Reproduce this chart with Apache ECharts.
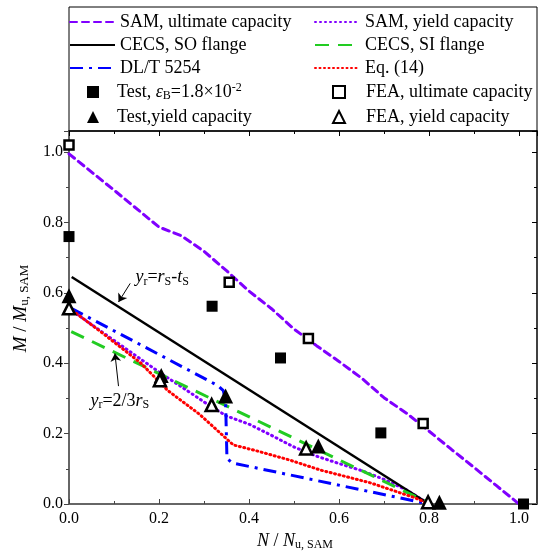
<!DOCTYPE html>
<html>
<head>
<meta charset="utf-8">
<script src="https://cdn.jsdelivr.net/npm/echarts@6/dist/echarts.min.js"></script>
<style>
  html, body { margin: 0; padding: 0; background: #fff; }
  #chart { width: 539px; height: 555px; }
</style>
</head>
<body>
<div id="chart"></div>
<script>
// curves, [N/Nu, M/Mu]
const samUltimate = [[0, 0.995], [0.1, 0.892], [0.2, 0.787], [0.25, 0.762], [0.3, 0.718], [0.35, 0.663], [0.4, 0.605], [0.45, 0.555], [0.5, 0.497], [0.55, 0.45], [0.6, 0.405], [0.65, 0.358], [0.7, 0.302], [0.75, 0.258], [0.8, 0.207], [0.85, 0.155], [0.9, 0.104], [0.95, 0.052], [1.0, 0]]
const samYield = [[0, 0.556], [0.05, 0.51], [0.1, 0.465], [0.15, 0.42], [0.2, 0.375], [0.25, 0.333], [0.3, 0.29], [0.35, 0.25], [0.4, 0.227], [0.45, 0.195], [0.5, 0.162], [0.55, 0.136], [0.6, 0.115], [0.65, 0.095], [0.7, 0.07], [0.75, 0.04], [0.8, 0]]
const cecsSO = [[0.006, 0.645], [0.8, 0]]
const cecsSI = [[0.005, 0.49], [0.805, 0]]
const dlt5254 = [[0.005, 0.556], [0.2, 0.425], [0.33, 0.337], [0.343, 0.322], [0.348, 0.29], [0.351, 0.13], [0.362, 0.117], [0.8, 0]]
const eq14 = [[0, 0.557], [0.07, 0.49], [0.16, 0.4], [0.22, 0.322], [0.29, 0.255], [0.34, 0.197], [0.365, 0.168], [0.42, 0.15], [0.49, 0.125], [0.56, 0.096], [0.67, 0.06], [0.77, 0.017], [0.8, 0]]

// test / FE points
const testUltimate = [[0, 0.76], [0.318, 0.562], [0.47, 0.415], [0.693, 0.202], [1.01, 0]]
const feaUltimate = [[0, 1.02], [0.356, 0.63], [0.532, 0.47], [0.787, 0.229]]
const testYield = [[0, 0.592], [0.205, 0.365], [0.348, 0.307], [0.554, 0.165], [0.823, 0.005]]
const feaYield = [[0, 0.556], [0.202, 0.352], [0.317, 0.281], [0.527, 0.158], [0.798, 0.005]]

// annotations
const noteLabels = [
  [0.207, 0.644, '{i|y}{sub|r}{n|=}{i|r}{sub|S}{n|-}{i|t}{sub|S}'],
  [0.113, 0.292, '{i|y}{sub|r}{n|=2/3}{i|r}{sub|S}']
]
const noteArrows = [
  [[0.136, 0.627], [0.11, 0.574]],
  [[0.11, 0.335], [0.102, 0.428]]
]

const xTicks = { min: 0, max: 1.04, interval: 0.2 }
const yTicks = { min: 0, max: 1.06, interval: 0.2 }

const FONT = 'Liberation Serif'
const PURPLE = '#8000ff'

function makeRich(size, subSize) {
  return {
    n: { fontFamily: FONT, fontSize: size, color: '#000', lineHeight: 20 },
    i: { fontFamily: FONT, fontSize: size, color: '#000', fontStyle: 'italic', lineHeight: 20 },
    sub: { fontFamily: FONT, fontSize: subSize, color: '#000', verticalAlign: 'bottom' },
    sup: { fontFamily: FONT, fontSize: subSize, color: '#000', verticalAlign: 'top' }
  }
}

const legendNames = {
  'Test, eps': '{n|Test, }{i|ε}{sub|B}{n|=1.8×10}{sup|-2}'
}

const chart = echarts.init(document.getElementById('chart'), null, { renderer: 'canvas' })

function lineSeries(name, data, color, width, type, cap) {
  return {
    name,
    type: 'line',
    data,
    symbol: 'none',
    smooth: false,
    lineStyle: { color, width, type, cap: cap || 'butt' },
    itemStyle: { color },
    z: 2
  }
}

function pointSeries(name, data, symbol, size, open) {
  return {
    name,
    type: 'scatter',
    data,
    symbol,
    symbolSize: size,
    itemStyle: open
      ? { color: '#fff', borderColor: '#000', borderWidth: 2.5, opacity: 1 }
      : { color: '#000', opacity: 1 },
    z: 5
  }
}

function lineLegend(left, names) {
  return {
    orient: 'vertical',
    left,
    top: 12,
    itemWidth: 45,
    itemHeight: 12,
    itemGap: 3,
    padding: 0,
    selectedMode: false,
    textStyle: { fontFamily: FONT, fontSize: 18, color: '#000', lineHeight: 20 },
    // line legend icons carry a marker, hide it
    data: names.map(name => ({ name, itemStyle: { opacity: 0, color: 'rgba(0,0,0,0)', borderWidth: 0 } }))
  }
}

function pointLegend(left, textPad, names) {
  return {
    orient: 'vertical',
    left,
    top: 82,
    itemWidth: 12,
    itemHeight: 12,
    itemGap: 5,
    padding: 0,
    symbolKeepAspect: true,
    selectedMode: false,
    formatter: name => legendNames[name] || name,
    textStyle: { fontFamily: FONT, fontSize: 18, color: '#000', lineHeight: 20, padding: [0, 0, 0, textPad], rich: makeRich(18, 12) },
    data: names
  }
}

const nameRich = makeRich(18, 12)
const noteRich = makeRich(18, 12)

chart.setOption({
  animation: false,
  textStyle: { fontFamily: FONT },
  grid: { left: 69, right: 2, top: 131, bottom: 51, outerBoundsMode: 'none' },
  graphic: [{
    type: 'rect',
    shape: { x: 69, y: 7, width: 468, height: 124 },
    style: { fill: 'none', stroke: '#000', lineWidth: 1 },
    silent: true
  }],
  legend: [
    lineLegend(69, ['SAM, ultimate capacity', 'CECS, SO flange', 'DL/T 5254']),
    lineLegend(314, ['SAM, yield capacity', 'CECS, SI flange', 'Eq. (14)']),
    pointLegend(87, 13, ['Test, eps', 'Test,yield capacity']),
    pointLegend(332, 16, ['FEA, ultimate capacity', 'FEA, yield capacity'])
  ],
  xAxis: [{
    type: 'value',
    min: xTicks.min,
    max: xTicks.max,
    interval: xTicks.interval,
    position: 'bottom',
    name: '{i|N}{n| / }{i|N}{sub|u, SAM}',
    nameLocation: 'middle',
    nameGap: 26,
    nameTextStyle: { rich: nameRich, padding: [0, 16, 0, 0] },
    axisLine: { onZero: false, lineStyle: { color: '#666', width: 2 } },
    axisTick: { inside: true, length: 5, lineStyle: { color: '#444', width: 1 } },
    minorTick: { show: true, splitNumber: 2, length: 3, lineStyle: { color: '#444', width: 1 } },
    axisLabel: { showMaxLabel: false, margin: 7, fontFamily: FONT, fontSize: 16, color: '#000', formatter: v => v.toFixed(1) },
    splitLine: { show: false }
  }, {
    type: 'value',
    min: xTicks.min,
    max: xTicks.max,
    interval: xTicks.interval,
    position: 'top',
    axisLine: { onZero: false, lineStyle: { color: '#000', width: 1.5 } },
    axisTick: { inside: true, length: 5, lineStyle: { color: '#000', width: 1 } },
    minorTick: { show: true, splitNumber: 2, length: 3, lineStyle: { color: '#000', width: 1 } },
    axisLabel: { show: false },
    splitLine: { show: false }
  }],
  yAxis: [{
    type: 'value',
    min: yTicks.min,
    max: yTicks.max,
    interval: yTicks.interval,
    position: 'left',
    name: '{i|M}{n| / }{i|M}{sub|u, SAM}',
    nameLocation: 'middle',
    nameGap: 38,
    nameTextStyle: { rich: makeRich(19, 13), padding: [0, 0, 0, 18] },
    axisLine: { onZero: false, lineStyle: { color: '#666', width: 2 } },
    axisTick: { inside: false, length: 5, lineStyle: { color: '#444', width: 1 } },
    minorTick: { show: true, splitNumber: 2, length: 3, lineStyle: { color: '#444', width: 1 } },
    axisLabel: { showMaxLabel: false, margin: 6, fontFamily: FONT, fontSize: 16, color: '#000', formatter: v => v.toFixed(1) },
    splitLine: { show: false }
  }, {
    type: 'value',
    min: yTicks.min,
    max: yTicks.max,
    interval: yTicks.interval,
    position: 'right',
    axisLine: { onZero: false, lineStyle: { color: '#000', width: 1.5 } },
    axisTick: { inside: true, length: 5, lineStyle: { color: '#000', width: 1 } },
    minorTick: { show: true, splitNumber: 2, length: 3, lineStyle: { color: '#000', width: 1 } },
    axisLabel: { show: false },
    splitLine: { show: false }
  }],
  series: [
    lineSeries('SAM, ultimate capacity', samUltimate, PURPLE, 3, [7, 5], 'round'),
    lineSeries('SAM, yield capacity', samYield, PURPLE, 3, [1, 4], 'round'),
    lineSeries('CECS, SO flange', cecsSO, '#000', 2.5, 'solid'),
    lineSeries('CECS, SI flange', cecsSI, '#22cc22', 3, [14, 9]),
    lineSeries('DL/T 5254', dlt5254, '#0000ff', 3, [13, 6, 3, 6]),
    lineSeries('Eq. (14)', eq14, '#ff0000', 3, [1, 3.5], 'round'),
    pointSeries('Test, eps', testUltimate, 'rect', 11, false),
    pointSeries('FEA, ultimate capacity', feaUltimate, 'rect', 9, true),
    pointSeries('Test,yield capacity', testYield, 'triangle', 15, false),
    pointSeries('FEA, yield capacity', feaYield, 'triangle', 12, true),
    {
      name: 'notes',
      type: 'scatter',
      data: noteLabels.map(d => ({ value: [d[0], d[1]], label: { formatter: d[2] } })),
      symbolSize: 0,
      itemStyle: { color: '#000', opacity: 1 },
      label: { show: true, position: 'inside', color: '#000', opacity: 1, rich: noteRich },
      z: 6,
      silent: true,
      markLine: {
        silent: true,
        symbol: ['none', 'arrow'],
        symbolSize: 8,
        lineStyle: { color: '#000', width: 1, type: 'solid', opacity: 1 },
        label: { show: false },
        data: noteArrows.map(a => [{ coord: a[0] }, { coord: a[1] }])
      }
    }
  ]
})
</script>
</body>
</html>
